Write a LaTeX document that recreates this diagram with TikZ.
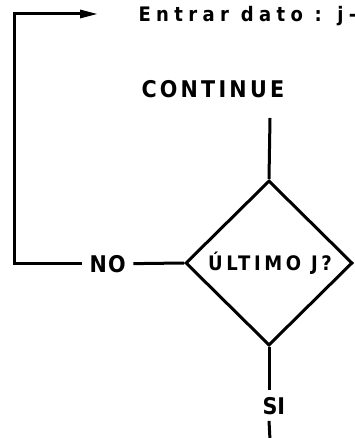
\documentclass[tikz,border=0pt]{standalone}
\usepackage{fontspec}
\setmainfont{DejaVu Sans Condensed}[BoldFont={DejaVu Sans Condensed Bold}]
\usetikzlibrary{shapes.geometric,arrows.meta}
\begin{document}
\begin{tikzpicture}[x=1pt,y=-1pt,
  line width=3pt, line join=miter,
  lbl/.style={inner sep=0pt, font=\fontsize{23}{23}\selectfont\bfseries\addfontfeature{LetterSpace=14}},
  toptxt/.style={inner sep=0pt, font=\fontsize{20}{20}\selectfont\bfseries\addfontfeature{LetterSpace=27}},
  decision/.style={draw, diamond, minimum width=167pt, minimum height=165pt, inner sep=0pt,
    font=\fontsize{20}{20}\selectfont\bfseries\addfontfeature{LetterSpace=18}},
  arr/.style={-{Triangle[length=18pt,width=8pt]}}]
\useasboundingbox (0,0) rectangle (354,438);
\node[toptxt, anchor=base west] (entrar) at (137,22) {Entrar dato : j-};
\node[lbl, anchor=base west] (cont) at (140,98) {CONTINUE};
\node[decision] (dia) at (269,263) {\hspace*{2pt}ÚLTIMO J?};
\node[lbl, anchor=base west, inner xsep=6pt, font=\fontsize{23}{23}\selectfont\bfseries\addfontfeature{LetterSpace=6}] (no) at (82,272) {NO};
\node[lbl, anchor=base west, inner ysep=5pt, font=\fontsize{23}{23}\selectfont\bfseries\addfontfeature{LetterSpace=0}] (si) at (261,414) {SI};
\coordinate (ctop) at (270,118);
\coordinate (tl) at (14,14);
\coordinate (tip) at (98,14);
\coordinate (bot) at (270,440);
\draw (ctop) -- (dia.north);
\draw (dia.west) -- (no.east);
\draw[arr] (no.west) -| (tl) -- (tip);
\draw (dia.south) -- (si.north -| dia.south);
\draw (si.south -| dia.south) -- (bot);
\end{tikzpicture}
\end{document}
